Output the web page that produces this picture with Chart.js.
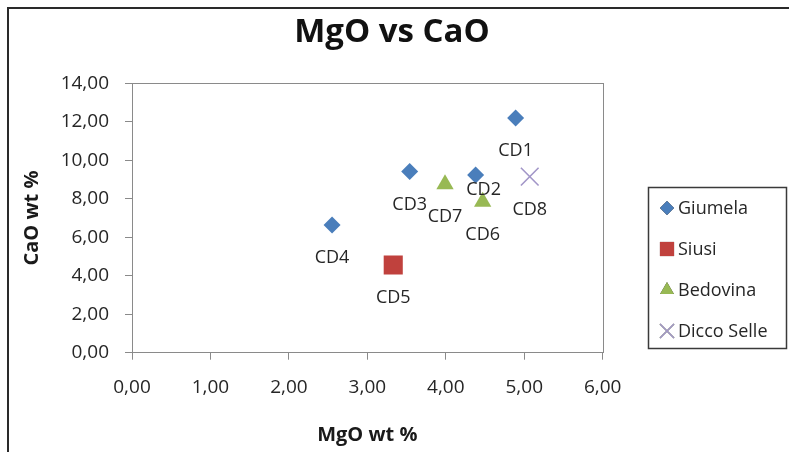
<!DOCTYPE html>
<html>
<head>
<meta charset="utf-8">
<title>MgO vs CaO</title>
<script src="https://cdn.jsdelivr.net/npm/chart.js@4/dist/chart.umd.min.js"></script>
<style>
  html, body { margin: 0; padding: 0; background: #fff; }
  #wrap { position: relative; width: 789px; height: 452px; overflow: hidden; }
  #frame {
    position: absolute; left: 7px; top: 7px; width: 820px; height: 480px;
    border-left: 2px solid #2a2a2a; border-top: 2px solid #2a2a2a;
    pointer-events: none;
  }
  canvas { position: absolute; left: 0; top: 0; }
</style>
</head>
<body>
<div id="wrap">
  <canvas id="chart" width="789" height="452"></canvas>
  <div id="frame"></div>
</div>
<script>
// ── Sample data (wt %) ──
const giumelaIds  = ["CD1", "CD2", "CD3", "CD4"];
const giumelaMgO  = [4.89, 4.38, 3.54, 2.55];
const giumelaCaO  = [12.20, 9.24, 9.41, 6.64];

const siusiIds    = ["CD5"];
const siusiMgO    = [3.33];
const siusiCaO    = [4.56];

const bedovinaIds = ["CD6", "CD7"];
const bedovinaMgO = [4.47, 3.99];
const bedovinaCaO = [7.85, 8.75];

const diccoIds    = ["CD8"];
const diccoMgO    = [5.07];
const diccoCaO    = [9.15];

const xTicks = [0, 1, 2, 3, 4, 5, 6];
const yTicks = [0, 2, 4, 6, 8, 10, 12, 14];

const TITLE = "MgO vs CaO";
const FONT = "'Open Sans', 'DejaVu Sans', sans-serif";

function toPoints(ids, xs, ys) {
  return ids.map((id, i) => ({ x: xs[i], y: ys[i], id: id }));
}

function fmt(v) {
  return v.toFixed(2).replace(".", ",");
}

// ── Chart title (centred over the whole figure, legend included) ──
const figTitle = {
  id: "figTitle",
  afterDraw(chart) {
    const ctx = chart.ctx;
    ctx.save();
    ctx.font = "bold 33px " + FONT;
    ctx.fillStyle = "#111";
    ctx.textAlign = "center";
    ctx.textBaseline = "middle";
    ctx.fillText(TITLE, 392, 33);
    ctx.restore();
  }
};

// ── Plot area border ──
const plotBorder = {
  id: "plotBorder",
  beforeDatasetsDraw(chart) {
    const a = chart.chartArea;
    const ctx = chart.ctx;
    ctx.save();
    ctx.strokeStyle = "#8a8a8a";
    ctx.lineWidth = 1;
    ctx.strokeRect(Math.round(a.left) + 0.5, Math.round(a.top) + 0.5,
                   Math.round(a.right - a.left), Math.round(a.bottom - a.top));
    ctx.restore();
  }
};

// ── Point labels (sample ids, under each marker) ──
const labelShift = { CD2: [8, 15] };   // moved label
const pointLabels = {
  id: "pointLabels",
  afterDatasetsDraw(chart) {
    const ctx = chart.ctx;
    ctx.save();
    ctx.font = "18px " + FONT;
    ctx.fillStyle = "#262626";
    ctx.textAlign = "center";
    ctx.textBaseline = "middle";
    chart.data.datasets.forEach((ds, di) => {
      const meta = chart.getDatasetMeta(di);
      meta.data.forEach((el, i) => {
        const id = ds.data[i].id;
        const s = labelShift[id] || [0, 33];
        ctx.fillText(id, el.x + s[0], el.y + s[1]);
      });
    });
    ctx.restore();
  }
};

// ── Legend box on the right ──
const boxLegend = {
  id: "boxLegend",
  afterDraw(chart) {
    const ctx = chart.ctx;
    const bx = 648, by = 187, bw = 138, bh = 161;
    ctx.save();
    ctx.strokeStyle = "#3a3a3a";
    ctx.lineWidth = 1.5;
    ctx.strokeRect(bx + 0.5, by + 0.5, bw, bh);
    const rows = [208, 249, 290, 331];
    ctx.font = "18px " + FONT;
    ctx.textBaseline = "middle";
    ctx.textAlign = "left";
    chart.data.datasets.forEach((ds, i) => {
      const y = rows[i];
      Chart.helpers.drawPoint(ctx, {
        pointStyle: ds.pointStyle,
        radius: ds.legendRadius,
        borderWidth: ds.borderWidth,
        rotation: 0
      }, 667, y);
      ctx.fillStyle = ds.backgroundColor;
      ctx.strokeStyle = ds.borderColor;
      ctx.lineWidth = ds.borderWidth;
      ctx.fill();
      if (ds.borderWidth) ctx.stroke();
      ctx.fillStyle = "#262626";
      ctx.fillText(ds.label, 678, y + 1);
    });
    ctx.restore();
  }
};

new Chart(document.getElementById("chart"), {
  type: "scatter",
  data: {
    datasets: [
      {
        label: "Giumela",
        data: toPoints(giumelaIds, giumelaMgO, giumelaCaO),
        pointStyle: "rectRot",
        pointRadius: 8.5,
        legendRadius: 7,
        backgroundColor: "#4a7ebb",
        borderColor: "#4a7ebb",
        borderWidth: 0
      },
      {
        label: "Siusi",
        data: toPoints(siusiIds, siusiMgO, siusiCaO),
        pointStyle: "rect",
        pointRadius: 13.5,
        legendRadius: 10,
        backgroundColor: "#c0413d",
        borderColor: "#c0413d",
        borderWidth: 0
      },
      {
        label: "Bedovina",
        data: toPoints(bedovinaIds, bedovinaMgO, bedovinaCaO),
        pointStyle: "triangle",
        pointRadius: 10,
        legendRadius: 8,
        backgroundColor: "#98b954",
        borderColor: "#98b954",
        borderWidth: 0
      },
      {
        label: "Dicco Selle",
        data: toPoints(diccoIds, diccoMgO, diccoCaO),
        pointStyle: "crossRot",
        pointRadius: 12.5,
        legendRadius: 10,
        backgroundColor: "rgba(0,0,0,0)",
        borderColor: "#a296c8",
        borderWidth: 1.6
      }
    ]
  },
  options: {
    responsive: false,
    devicePixelRatio: 1,
    animation: false,
    layout: { padding: { left: 0, right: 186.3, top: 83.3, bottom: 0 } },
    plugins: {
      legend: { display: false },
      tooltip: { enabled: false },
      title: { display: false }
    },
    scales: {
      x: {
        type: "linear",
        min: 0,
        max: 6,
        afterBuildTicks: (s) => { s.ticks = xTicks.map(v => ({ value: v })); },
        afterFit: (s) => { s.height = 99.3; },
        ticks: {
          color: "#262626",
          padding: 16,
          font: { family: FONT, size: 19 },
          callback: (v) => fmt(v)
        },
        grid: { drawOnChartArea: false, drawTicks: true, tickLength: 7, color: "#8a8a8a" },
        border: { color: "#8a8a8a", width: 1 },
        title: {
          display: true,
          text: "MgO wt %",
          color: "#1a1a1a",
          font: { family: FONT, size: 20, weight: "bold" },
          padding: { top: 0, bottom: 5 }
        }
      },
      y: {
        type: "linear",
        min: 0,
        max: 14,
        afterBuildTicks: (s) => { s.ticks = yTicks.map(v => ({ value: v })); },
        afterFit: (s) => { s.width = 132; },
        ticks: {
          color: "#262626",
          padding: 16,
          font: { family: FONT, size: 19 },
          callback: (v) => fmt(v)
        },
        grid: { drawOnChartArea: false, drawTicks: true, tickLength: 7, color: "#8a8a8a" },
        border: { color: "#8a8a8a", width: 1 },
        title: {
          display: true,
          text: "CaO wt %",
          color: "#1a1a1a",
          font: { family: FONT, size: 20, weight: "bold" },
          padding: { top: 20, bottom: 0 }
        }
      }
    }
  },
  plugins: [figTitle, plotBorder, pointLabels, boxLegend]
});
</script>
</body>
</html>
